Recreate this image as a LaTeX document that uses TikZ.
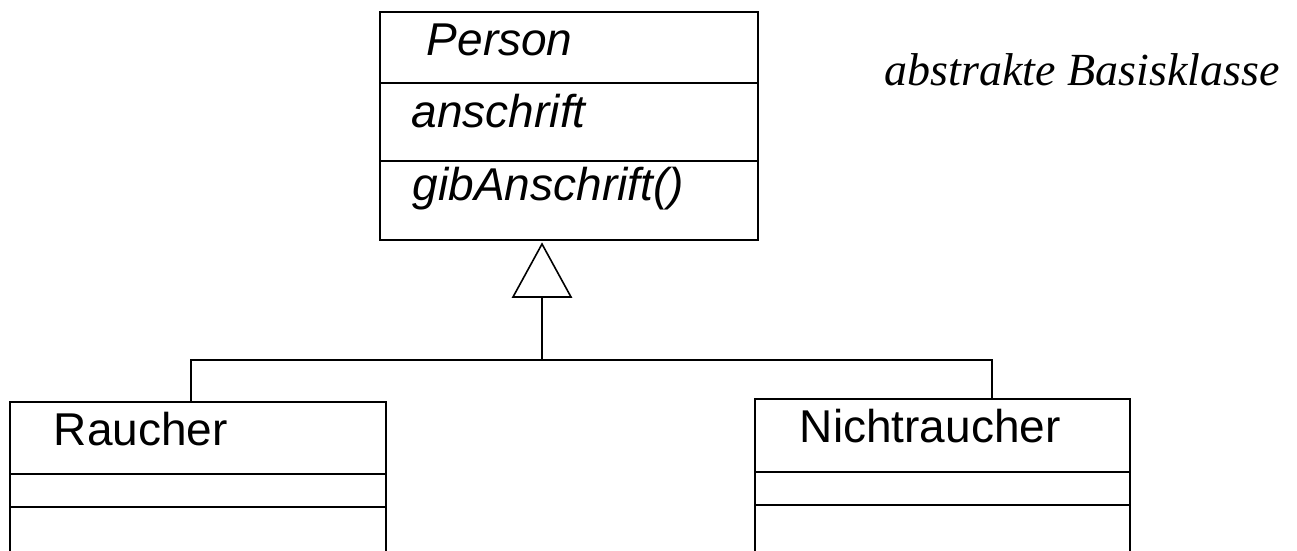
\documentclass[tikz,border=0pt]{standalone}
\usepackage{fontspec}
\setmainfont{Liberation Serif}
\setsansfont{Liberation Sans}
\begin{document}
\begin{tikzpicture}[x=1pt,y=-1pt,
  line width=1.6pt,
  classbox/.style={draw, rectangle, inner sep=0pt},
  label/.style={anchor=base west, inner sep=0pt, font=\sffamily\fontsize{46}{52}\selectfont},
  abstractlabel/.style={label, font=\sffamily\itshape\fontsize{46}{52}\selectfont},
  note/.style={anchor=base west, inner sep=0pt, font=\rmfamily\itshape\fontsize{46}{52}\selectfont}
]
\useasboundingbox (0,0) rectangle (1297,550);
\clip (0,0) rectangle (1297,550);

% abstract base class
\node[classbox, minimum width=378pt, minimum height=228pt] (person) at (569,126) {};
\draw (person.west |- 0,83) -- (person.east |- 0,83);
\draw (person.west |- 0,161) -- (person.east |- 0,161);
\node[abstractlabel] (pname) at (426,55) {Person};
\node[abstractlabel] (pattr) at (411,127) {anschrift};
\node[abstractlabel] (pop) at (412,200) {gibAnschrift()};

\node[note] (hint) at (884,85) {abstrakte Basisklasse};

% subclasses
\node[classbox, minimum width=376pt, minimum height=158pt] (raucher) at (198,481) {};
\draw (raucher.west |- 0,474) -- (raucher.east |- 0,474);
\draw (raucher.west |- 0,507) -- (raucher.east |- 0,507);
\node[label] (rname) at (53,445) {Raucher};

\node[classbox, minimum width=375pt, minimum height=161pt] (nicht) at (942.5,479.5) {};
\draw (nicht.west |- 0,472) -- (nicht.east |- 0,472);
\draw (nicht.west |- 0,505) -- (nicht.east |- 0,505);
\node[label] (nname) at (799,442) {Nichtraucher};

% generalization
\coordinate (apex) at (542,244);
\coordinate (base) at (542,297);
\coordinate (bus) at (542,360);
\draw[line join=miter] (apex) -- (513,297) -- (571,297) -- cycle;
\draw (base) -- (bus);
\draw (bus) -| ([xshift=-7pt]raucher.north);
\draw (bus) -| ([xshift=49.5pt]nicht.north);
\end{tikzpicture}
\end{document}
